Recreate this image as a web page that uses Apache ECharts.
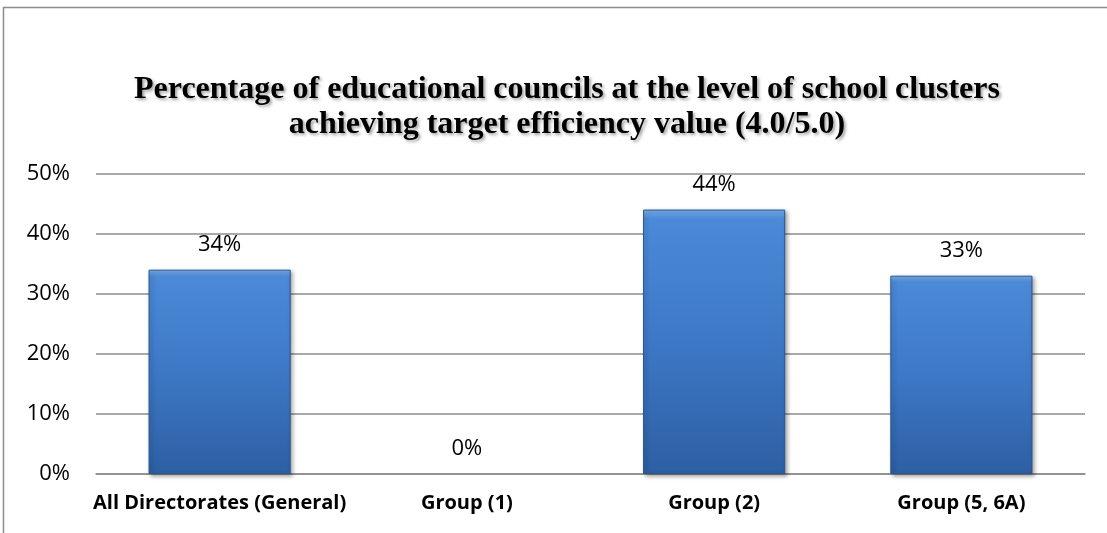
<!DOCTYPE html>
<html>
<head>
<meta charset="utf-8">
<script src="https://cdn.jsdelivr.net/npm/echarts@6/dist/echarts.min.js"></script>
<style>
  html, body { margin: 0; padding: 0; background: #fff; }
  #chart { width: 1107px; height: 533px; }
</style>
</head>
<body>
<div id="chart"></div>
<script>
// Share of educational councils (school-cluster level) reaching the 4.0/5.0 target
const categories = ['All Directorates (General)', 'Group (1)', 'Group (2)', 'Group (5, 6A)'];
const values = [34, 0, 44, 33];
const yTicks = [0, 10, 20, 30, 40, 50];

const chart = echarts.init(document.getElementById('chart'), null, { renderer: 'canvas' });

const barFill = new echarts.graphic.LinearGradient(0, 0, 0, 1, [
  { offset: 0, color: '#7ab1ef' },
  { offset: 0.035, color: '#4b8ad8' },
  { offset: 0.5, color: '#3d78c6' },
  { offset: 1, color: '#2d5fa3' }
]);

// an empty bar gets no outline or shadow, only its label
const barData = values.map(v => v === 0
  ? { value: v, itemStyle: { borderWidth: 0, shadowBlur: 0, shadowOffsetX: 0, shadowOffsetY: 0 } }
  : v);

chart.setOption({
  animation: false,
  backgroundColor: '#ffffff',
  graphic: [{
    type: 'rect',
    shape: { x: 3.5, y: 7.5, width: 1200, height: 700 },
    style: { fill: 'none', stroke: '#8c8c8c', lineWidth: 1.5 },
    silent: true,
    z: -1
  }],
  title: {
    text: 'Percentage of educational councils at the level of school clusters\nachieving target efficiency value (4.0/5.0)',
    left: 562,
    top: 67,
    textAlign: 'center',
    textStyle: {
      fontFamily: '"Liberation Serif", "Times New Roman", serif',
      fontWeight: 'bold',
      fontSize: 32,
      lineHeight: 35,
      color: '#000',
      textShadowColor: 'rgba(0,0,0,0.35)',
      textShadowBlur: 3,
      textShadowOffsetX: 2,
      textShadowOffsetY: 2
    }
  },
  grid: { left: 96, right: 22, top: 173.5, bottom: 59, containLabel: false },
  xAxis: {
    type: 'category',
    data: categories,
    axisTick: { show: false },
    axisLine: { show: true, lineStyle: { color: '#8c8c8c', width: 1.5 } },
    axisLabel: {
      interval: 0,
      margin: 19,
      fontFamily: '"Open Sans", sans-serif',
      fontWeight: 'bold',
      fontSize: 20,
      color: '#000'
    }
  },
  yAxis: {
    type: 'value',
    min: yTicks[0],
    max: yTicks[yTicks.length - 1],
    interval: 10,
    axisLine: { show: false },
    axisTick: { show: false },
    splitLine: { lineStyle: { color: '#8c8c8c', width: 1.5 } },
    axisLabel: {
      margin: 26,
      fontFamily: '"Open Sans", sans-serif',
      fontSize: 22,
      color: '#000',
      formatter: v => v + '%'
    }
  },
  series: [{
    type: 'bar',
    data: barData,
    barWidth: '57.5%',
    itemStyle: {
      color: barFill,
      borderColor: '#2a5590',
      borderWidth: 1,
      shadowColor: 'rgba(0,0,0,0.35)',
      shadowBlur: 4,
      shadowOffsetX: 2,
      shadowOffsetY: 2
    },
    label: {
      show: true,
      position: 'top',
      distance: 14,
      fontFamily: '"Open Sans", sans-serif',
      fontSize: 22,
      color: '#000',
      formatter: p => p.value + '%'
    }
  }]
});
</script>
</body>
</html>
